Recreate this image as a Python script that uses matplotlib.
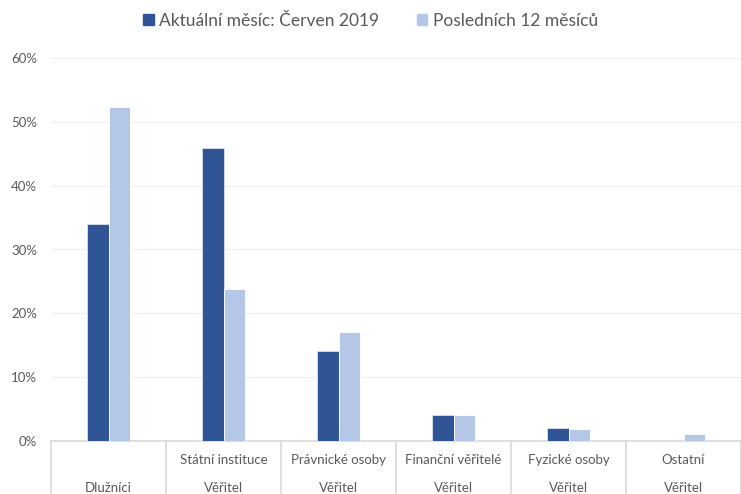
import numpy as np
import matplotlib.pyplot as plt
import matplotlib.transforms as mtransforms
from matplotlib.patches import Patch

plt.rcParams['font.family'] = ['Lato', 'DejaVu Sans']

inner_labels = ["", "Státní instituce", "Právnické osoby", "Finanční věřitelé", "Fyzické osoby", "Ostatní"]
outer_labels = ["Dlužníci", "Věřitel", "Věřitel", "Věřitel", "Věřitel", "Věřitel"]
current = [34.0, 45.9, 14.1, 4.1, 2.0, 0.0]
last12 = [52.3, 23.8, 17.1, 4.1, 1.9, 1.1]
series_names = ["Aktuální měsíc: Červen 2019", "Posledních 12 měsíců"]

dark = "#2F5597"
light = "#B4C7E7"
grey_txt = "#595959"

fig = plt.figure(figsize=(7.41, 4.94), dpi=100)
ax = fig.add_axes([51 / 741, 53 / 494, 690 / 741, 383 / 494])

x = np.arange(len(inner_labels))
w = 0.183
ax.bar(x - w / 2, current, w, color=dark, edgecolor="white", linewidth=0.4, zorder=3)
ax.bar(x + w / 2, last12, w, color=light, edgecolor="white", linewidth=0.6, zorder=3)

ax.set_xlim(-0.5, len(x) - 0.5)
ax.set_ylim(0, 60)
ax.set_yticks(range(0, 61, 10))
ax.set_yticklabels(["%d%%" % v for v in range(0, 61, 10)], color=grey_txt, fontsize=9.5)
ax.tick_params(axis="y", length=0, pad=10)
ax.set_xticks([])
ax.grid(axis="y", color="#F0F0F0", linewidth=1, zorder=0)
for s in ["top", "right", "left"]:
    ax.spines[s].set_visible(False)
ax.spines["bottom"].set_color("#D9D9D9")
ax.spines["bottom"].set_linewidth(1.2)

# multi-level category axis
trans = mtransforms.blended_transform_factory(ax.transData, ax.transAxes)
low = -53 / 383
for b in np.arange(len(x) + 1) - 0.5:
    ax.plot([b, b], [0, low], transform=trans, color="#D9D9D9", lw=1.2, clip_on=False)
for i in x:
    ax.text(i, -19 / 383, inner_labels[i], transform=trans, ha="center", va="center",
            color=grey_txt, fontsize=9.5)
    ax.text(i, -47 / 383, outer_labels[i], transform=trans, ha="center", va="center",
            color=grey_txt, fontsize=9.5)

handles = [Patch(color=dark), Patch(color=light)]
fig.legend(handles, series_names, loc="center", bbox_to_anchor=(0.5, 1 - 21 / 494), ncol=2,
           frameon=False, fontsize=12.5, labelcolor=grey_txt, handlelength=0.6, handleheight=0.6,
           handletextpad=0.3, columnspacing=2.2)

fig.savefig("out.png", dpi=100)
